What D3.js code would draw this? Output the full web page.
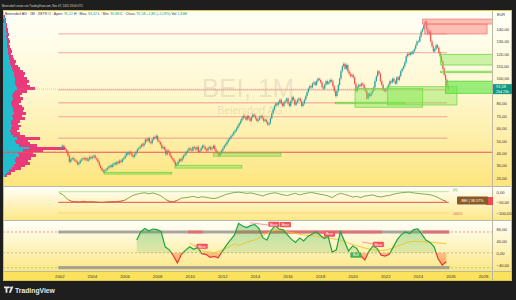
<!DOCTYPE html>
<html><head><meta charset="utf-8">
<script src="https://cdn.jsdelivr.net/npm/d3@7"></script>
<style>html,body{margin:0;padding:0;background:#1e1e1e;}svg{display:block;font-family:"Liberation Sans",Arial,sans-serif;}</style>
</head><body><svg id="c" width="516" height="300"></svg>
<script>
// ---------- DATA ----------
// Monthly closes Jan 2002 .. Nov 2025 (EUR)
const monthlyClose = [
 44,45,46,44,43,41,38,33,35,36,35,34,
 33,31,32,34,35,36,35,36,34,35,37,36,
 37,38,36,35,33,30,28,26,25,26,27,28,
 29,30,29,31,32,31,33,32,34,33,35,36,
 38,40,39,41,40,38,37,39,41,43,44,45,
 47,46,48,51,50,52,49,48,51,53,52,54,
 50,49,47,44,45,43,39,42,41,38,36,35,
 33,30,31,33,35,34,36,38,39,41,42,44,
 43,42,45,44,43,45,41,42,44,46,45,43,
 42,44,45,43,44,46,43,41,40,38,40,42,
 44,46,47,49,51,52,54,55,57,58,60,62,
 64,66,68,70,69,67,70,68,66,69,71,70,
 68,66,67,69,70,68,66,67,65,63,64,68,
 72,75,78,80,79,81,83,80,78,81,82,84,
 80,78,82,85,83,79,81,83,84,82,78,80,
 83,86,89,92,94,93,96,97,95,98,100,99,
 97,93,92,95,98,96,97,99,98,94,90,86,
 90,95,100,106,110,112,108,111,106,104,102,103,
 101,96,90,93,95,94,96,95,92,90,84,88,
 86,88,90,93,98,102,106,104,98,95,91,90,
 91,93,95,98,97,100,98,96,101,99,102,106,
 108,110,113,118,120,119,121,120,122,124,127,130,
 130,134,138,140,143,146,140,136,138,130,126,122,
 124,127,125,121,118,114,108,103,99,94,91.58
];
const firstOpen = 43;
const lastClose = 91.58;

// Volume profile bins (price, from 150 down to 22 step 2)
const profUp = [1,2,2,3,3,3,3,4,3,4,4,4,4,5,5,5,6,6,7,7,8,9,10,11,11,12,12,12,13,14,12,10,9,10,9,8,9,10,10,11,9,10,8,8,9,8,7,8,10,14,12,13,16,26,20,15,16,13,12,13,11,9,6,4,2];
const profDn = [1,1,1,1,1,2,2,2,2,2,3,2,3,3,4,3,4,5,6,5,7,8,10,11,10,12,14,12,14,18,12,9,8,10,9,8,10,11,10,12,10,12,9,7,9,8,7,9,12,23,13,14,18,36,20,15,17,15,13,14,11,9,6,4,2];

// Horizontal levels
const salmonLevels = [136, 121, 91, 80.6, 69.4, 52];
const redLevel = 40.7;

// Zones [startYear, endYear, top, bottom]
const greenZones = [
 [2004.75, 2008.9, 24.6, 23.2],
 [2009.1, 2013.2, 30.2, 28.0],
 [2011.45, 2015.6, 40.0, 37.6],
 [2018.95, 2023.2, 81.0, 80.0],
 [2020.15, 2024.3, 92.2, 77.0],
 [2022.15, 2026.4, 93.5, 78.8],
 [2025.4, 2028.6, 119.6, 111.0],
 [2025.4, 2028.6, 106.0, 104.8]
];
const brightZones = [[2025.7, 2028.6, 98.0, 88.2]];
const redZones = [
 [2024.3, 2028.6, 148.0, 144.0],
 [2024.43, 2028.25, 144.0, 136.0]
];

// Oscillator 1 (quarterly from 2002 Q1)
const osc1 = [
 -5,-15,-35,-45, -47,-48,-45,-48, -47,-49,-50,-50, -48,-47,-46,-45,
 -40,-30,-18,-12, -8,-5,-10,-6, -12,-20,-35,-45, -48,-40,-30,-28,
 -25,-22,-28,-24, -26,-30,-32,-28, -20,-12,-8,-4, -2,-5,-8,-6,
 -10,-15,-20,-12, -8,-5,-10,-15, -18,-12,-8,-15, -10,-6,-4,-8,
 -12,-15,-20,-28, -15,-8,-12,-18, -25,-22,-28,-20, -18,-15,-22,-25,
 -20,-18,-12,-8, -5,-3,-2,-6, -8,-10,-12,-14, -20,-28,-38,-46
];
// Oscillator 2 (quarterly from 2006 Q4)
const osc2 = [43,
 70,82,74,80, 78,72,20,10, -10,-34,-5,9, 20,12,18,-3, -5,-15,-12,-17,
 5,25,43,60, 99,90,85,92, 95,82,50,43, 75,92,80,77, 60,45,35,50,
 40,55,62,71, 60,48,55,2, 10,71,40,6, 23,15,-10,-24, 5,23,15,-8,
 -11,-5,20,45, 62,70,65,78, 80,62,43,35, 20,-20,-41,-30
];
// Signal line (quarterly from 2010 Q1)
const osc2Signal = [33,25,15,8, 3,3,0,5, 8,15,22,30, 25,30,35,40, 43,50,58,66,
 72,76,77,75, 70,68,65,62, 60,58,57,56, 54,52,50,48, 45,42,38,32,
 28,24,20,16, 13,10,9,8, 9,12,16,22, 28,33,37,38, 38,37,36,35, 34,33,32,31];
const redBandSegs = [[2009.9, 2010.8], [2012.8, 2021.8], [2024.3, 2025.9]];
const bearLabels = [[2010.77, 22], [2015.17, 96], [2015.88, 95], [2018.58, 63], [2021.58, 28]];
const bullLabels = [[2020.2, -8]];
const divLines = [[2013.7,101,2015.6,88],[2017.6,72,2018.8,58],[2020.6,36,2021.8,25],[2010.3,25,2011.0,12]];

const priceTicks = [20,30,40,50,60,70,80,100,110,120,130,140];
const osc1Ticks = [0,-50,-100];
const osc2Ticks = [80,40,0,-40];
const yearTicks = [2002,2004,2006,2008,2010,2012,2014,2016,2018,2020,2022,2024,2026,2028];

// ---------- LAYOUT ----------
const svg = d3.select('#c');
const L = 3, R = 512, AX = 492;
const mT = 10, mB = 186, p1T = 187, p1B = 220, p2T = 221, p2B = 271, tB = 281;
const fmt = v => d3.format(".2f")(v).replace('.', ',').replace('-', '−');
const yd = y => { const Y = Math.floor(y); return new Date(Y, 0, 1 + (y - Y) * 365); };

const x = d3.scaleTime().domain([new Date(2002,0,1), new Date(2028,0,1)]).range([59.3, 483]);
const y = d3.scaleLinear().domain([20, 140]).range([178, 29]);
const y1 = d3.scaleLinear().domain([0, -100]).range([191.7, 213]);
const y2 = d3.scaleLinear().domain([80, -40]).range([229, 264.7]);

const defs = svg.append('defs');
function grad(id, stops){
  const g = defs.append('linearGradient').attr('id', id).attr('x1',0).attr('y1',0).attr('x2',0).attr('y2',1);
  stops.forEach(s => g.append('stop').attr('offset', s[0]).attr('stop-color', s[1]).attr('stop-opacity', s[2] ?? 1));
}
grad('gMain', [[0,'#fffff8'],[0.45,'#fff8d2'],[1,'#fde57e']]);
grad('gP', [[0,'#fffffa'],[1,'#fde886']]);
grad('gGreen', [[0,'#3cb043',0.42],[1,'#3cb043',0.03]]);
grad('gRed', [[0,'#ff6a2a',0.04],[1,'#ff5a2a',0.45]]);
function clip(id, x0, y0, w, h){ defs.append('clipPath').attr('id', id).append('rect').attr('x',x0).attr('y',y0).attr('width',w).attr('height',h); }
clip('cMain', L, mT, AX - L, mB - mT);
clip('cP1', L, p1T, AX - L, p1B - p1T);
clip('cP2', L, p2T, AX - L, p2B - p2T);
clip('cP2up', L, p2T, AX - L, y2(0) - p2T);
clip('cP2dn', L, y2(0), AX - L, p2B - y2(0));
clip('cP1lo', L, y1(-40), AX - L, p1B - y1(-40));

// backgrounds
svg.append('rect').attr('width',516).attr('height',300).attr('fill','#1e1e1e');
svg.append('rect').attr('x',L).attr('y',mT).attr('width',R-L).attr('height',tB-mT).attr('fill','#f8e15a');
svg.append('rect').attr('x',L).attr('y',mT).attr('width',R-L).attr('height',mB-mT).attr('fill','url(#gMain)');
svg.append('rect').attr('x',L).attr('y',p1T).attr('width',R-L).attr('height',p1B-p1T).attr('fill','url(#gP)');
svg.append('rect').attr('x',L).attr('y',p2T).attr('width',R-L).attr('height',p2B-p2T).attr('fill','url(#gP)');
svg.append('rect').attr('x',L).attr('y',p2B).attr('width',R-L).attr('height',tB-p2B).attr('fill','#fae25c');
[mB+0.5, p1B+0.5, p2B+0.5].forEach(v => svg.append('line').attr('x1',L).attr('x2',R).attr('y1',v).attr('y2',v).attr('stroke','#bdb8a0').attr('stroke-width',1));
svg.append('line').attr('x1',AX+0.5).attr('x2',AX+0.5).attr('y1',mT).attr('y2',tB).attr('stroke','#bdb8a0');
svg.append('rect').attr('x',L+0.5).attr('y',mT+0.5).attr('width',R-L-1).attr('height',tB-mT-1).attr('fill','none').attr('stroke','#d9c54a');

// ---------- MAIN PANE ----------
const gm = svg.append('g').attr('clip-path','url(#cMain)');
// watermark
gm.append('text').attr('x',248).attr('y',97).attr('text-anchor','middle').attr('font-size',26).attr('fill','#b8ae98').attr('fill-opacity',0.28).text('BEI, 1M');
gm.append('text').attr('x',250).attr('y',114).attr('text-anchor','middle').attr('font-size',10.5).attr('fill','#b8ae98').attr('fill-opacity',0.32).text('Beiersdorf AG');

// volume profile
const profPrices = d3.range(150, 21, -2);
const px = d3.scaleLinear().domain([0, 62]).range([L, L + 62]);
const bh = Math.abs(y(0) - y(2));
const gp = gm.append('g').attr('shape-rendering', 'crispEdges');
profPrices.forEach((p, i) => {
  const up = profUp[i], dn = profDn[i];
  gp.append('rect').attr('x', px(0)).attr('y', y(p) - bh/2).attr('width', px(up) - px(0)).attr('height', bh + 0.4).attr('fill', '#22bccd');
  gp.append('rect').attr('x', px(up)).attr('y', y(p) - bh/2).attr('width', px(up + dn) - px(up)).attr('height', bh + 0.4).attr('fill', '#ea3a7a');
});

// horizontal levels
salmonLevels.forEach(p => gm.append('line').attr('x1', x(new Date(2002,0,1)) - 1).attr('x2', x(yd(2025.8))).attr('y1', y(p)).attr('y2', y(p)).attr('stroke','#f6a89a').attr('stroke-width',1.3).attr('opacity',0.8));
gm.append('line').attr('x1', L).attr('x2', AX).attr('y1', y(redLevel)).attr('y2', y(redLevel)).attr('stroke','#f0515c').attr('stroke-width',1.1);
// current price line
gm.append('line').attr('x1', L).attr('x2', AX).attr('y1', y(lastClose)).attr('y2', y(lastClose)).attr('stroke','#63c08a').attr('stroke-width',0.8).attr('stroke-dasharray','1,1').attr('opacity',0.6);

// candles
const cw = 1.25;
monthlyClose.forEach((c, i) => {
  const o = i === 0 ? firstOpen : monthlyClose[i-1];
  const d = new Date(2002, i, 15);
  const up = c >= o;
  const col = up ? '#26a69a' : '#ef5350';
  const top = y(Math.max(o, c)), bot = y(Math.min(o, c));
  gm.append('line').attr('x1', x(d)).attr('x2', x(d)).attr('y1', top - 1.5).attr('y2', bot + 1.5).attr('stroke', col).attr('stroke-width', 0.5).attr('opacity', 0.8);
  gm.append('rect').attr('x', x(d) - cw/2).attr('y', top).attr('width', cw).attr('height', Math.max(0.8, bot - top)).attr('fill', col);
});

// zones
function zone(z, fill, stroke, fo){
  gm.append('rect').attr('x', x(yd(z[0]))).attr('y', y(z[2])).attr('width', x(yd(z[1])) - x(yd(z[0]))).attr('height', Math.max(1.5, y(z[3]) - y(z[2])))
    .attr('fill', fill).attr('fill-opacity', fo).attr('stroke', stroke).attr('stroke-width', 0.8);
}
greenZones.forEach(z => zone(z, '#7ee84e', '#6fd64a', 0.4));
brightZones.forEach(z => zone(z, '#66e84a', '#55d43a', 0.65));
redZones.forEach(z => zone(z, '#ff7f78', '#f47b7b', 0.5));

// price axis
const ga = svg.append('g').attr('transform', `translate(${AX},0)`)
  .call(d3.axisRight(y).tickValues(priceTicks).tickSize(0).tickPadding(4.5).tickFormat(fmt));
ga.select('.domain').remove();
ga.selectAll('text').attr('font-size', 4.1).attr('fill', '#333');
svg.append('text').attr('x', 497).attr('y', 15.5).attr('font-size', 3.8).attr('fill', '#333').text('EUR');
// last price label
svg.append('rect').attr('x', AX + 1).attr('y', y(lastClose) - 5).attr('width', R - AX - 1).attr('height', 10).attr('fill', '#0f9a82');
svg.append('text').attr('x', 496).attr('y', y(lastClose) - 0.8).attr('font-size', 4).attr('fill', '#fff').text(fmt(lastClose));
svg.append('text').attr('x', 496).attr('y', y(lastClose) + 3.6).attr('font-size', 3.6).attr('fill', '#fff').text('20d 23h');

// ---------- PANE 1 ----------
const g1 = svg.append('g').attr('clip-path', 'url(#cP1)');
const x1s = x(new Date(2002,0,1)) - 1, x1e = x(yd(2025.9));
g1.append('line').attr('x1', x1s).attr('x2', x1e).attr('y1', y1(0)).attr('y2', y1(0)).attr('stroke', '#a6dd8e').attr('stroke-width', 0.8);
g1.append('line').attr('x1', x1s).attr('x2', x1e).attr('y1', y1(-50)).attr('y2', y1(-50)).attr('stroke', '#ef5350').attr('stroke-width', 1);
g1.append('line').attr('x1', x1s).attr('x2', x1e).attr('y1', y1(-100)).attr('y2', y1(-100)).attr('stroke', '#f3d56a').attr('stroke-width', 1);
const l1 = d3.line().x((d, i) => x(new Date(2002, i*3, 1))).y(d => y1(d));
g1.append('path').datum(osc1).attr('d', l1).attr('fill', 'none').attr('stroke', '#7c9f3d').attr('stroke-width', 0.9);
g1.append('path').datum(osc1).attr('d', l1).attr('fill', 'none').attr('stroke', '#ef5350').attr('stroke-width', 0.9).attr('clip-path', 'url(#cP1lo)');
svg.append('text').attr('x', 453).attr('y', 191).attr('font-size', 3.6).attr('fill', '#4caf50').text('(0)');
svg.append('text').attr('x', 452).attr('y', 214.5).attr('font-size', 3.6).attr('fill', '#ef5350').text('-100%');
svg.append('rect').attr('x', 486).attr('y', 197).attr('width', 7).attr('height', 8).attr('fill', '#ef4b55');
svg.append('rect').attr('x', 457).attr('y', 196.5).attr('width', 31).attr('height', 8).attr('fill', '#8a5a24').attr('rx', 0.8);
svg.append('text').attr('x', 472.5).attr('y', 202).attr('text-anchor', 'middle').attr('font-size', 3.8).attr('fill', '#fff').text('BEI | 38.57%');
const a1 = svg.append('g').attr('transform', `translate(${AX},0)`).call(d3.axisRight(y1).tickValues(osc1Ticks).tickSize(0).tickPadding(4.5).tickFormat(fmt));
a1.select('.domain').remove();
a1.selectAll('text').attr('font-size', 4.1).attr('fill', '#333');

// ---------- PANE 2 ----------
const g2 = svg.append('g').attr('clip-path', 'url(#cP2)');
g2.append('line').attr('x1', L).attr('x2', AX).attr('y1', y2(70)).attr('y2', y2(70)).attr('stroke', '#f07070').attr('stroke-width', 0.7).attr('stroke-dasharray', '2,2');
g2.append('line').attr('x1', L).attr('x2', AX).attr('y1', y2(0)).attr('y2', y2(0)).attr('stroke', '#b5a67a').attr('stroke-width', 0.7).attr('stroke-dasharray', '2,2');
g2.append('line').attr('x1', L).attr('x2', AX).attr('y1', y2(-50)).attr('y2', y2(-50)).attr('stroke', '#7cc85a').attr('stroke-width', 0.7).attr('stroke-dasharray', '2,2');
const bs = x(new Date(2002,0,1)) - 1, be = x(yd(2025.95));
g2.append('line').attr('x1', bs).attr('x2', be).attr('y1', y2(70)).attr('y2', y2(70)).attr('stroke', '#8f8f8f').attr('stroke-width', 3.2).attr('opacity', 0.75);
g2.append('line').attr('x1', bs).attr('x2', be).attr('y1', y2(-50)).attr('y2', y2(-50)).attr('stroke', '#8f8f8f').attr('stroke-width', 3.2).attr('opacity', 0.75);
redBandSegs.forEach(s => g2.append('line').attr('x1', x(yd(s[0]))).attr('x2', x(yd(s[1]))).attr('y1', y2(70)).attr('y2', y2(70)).attr('stroke', '#f0606c').attr('stroke-width', 3).attr('opacity', 0.75));
const q2 = i => new Date(2006, 9 + i*3, 1);
const area2 = d3.area().x((d, i) => x(q2(i))).y0(y2(0)).y1(d => y2(d));
g2.append('path').datum(osc2).attr('d', area2).attr('fill', 'url(#gGreen)').attr('clip-path', 'url(#cP2up)');
g2.append('path').datum(osc2).attr('d', area2).attr('fill', 'url(#gRed)').attr('clip-path', 'url(#cP2dn)');
const ls = d3.line().x((d, i) => x(new Date(2010, i*3, 1))).y(d => y2(d));
g2.append('path').datum(osc2Signal).attr('d', ls).attr('fill', 'none').attr('stroke', '#f2c322').attr('stroke-width', 0.9);
const l2 = d3.line().x((d, i) => x(q2(i))).y(d => y2(d));
g2.append('path').datum(osc2).attr('d', l2).attr('fill', 'none').attr('stroke', '#22a33a').attr('stroke-width', 1.2).attr('clip-path', 'url(#cP2up)');
g2.append('path').datum(osc2).attr('d', l2).attr('fill', 'none').attr('stroke', '#e53935').attr('stroke-width', 1.2).attr('clip-path', 'url(#cP2dn)');
divLines.forEach(d => g2.append('line').attr('x1', x(yd(d[0]))).attr('y1', y2(d[1])).attr('x2', x(yd(d[2]))).attr('y2', y2(d[3])).attr('stroke', '#f05a64').attr('stroke-width', 0.6));
function tag(t, v, txt, col){
  const cx = x(yd(t)), cy = y2(v);
  g2.append('rect').attr('x', cx - 5.5).attr('y', cy - 2.6).attr('width', 11).attr('height', 5.2).attr('fill', col).attr('rx', 0.6);
  g2.append('text').attr('x', cx).attr('y', cy + 1.3).attr('text-anchor', 'middle').attr('font-size', 3.5).attr('fill', '#fff').text(txt);
}
bearLabels.forEach(b => tag(b[0], b[1], 'Bear', '#f2545b'));
bullLabels.forEach(b => tag(b[0], b[1], 'Bull', '#4caf50'));
const a2 = svg.append('g').attr('transform', `translate(${AX},0)`).call(d3.axisRight(y2).tickValues(osc2Ticks).tickSize(0).tickPadding(4.5).tickFormat(fmt));
a2.select('.domain').remove();
a2.selectAll('text').attr('font-size', 4.1).attr('fill', '#333');

// ---------- TIME AXIS ----------
const at = svg.append('g').attr('transform', `translate(0,${p2B})`)
  .call(d3.axisBottom(x).tickValues(yearTicks.map(v => new Date(v,0,1))).tickSize(0).tickPadding(4).tickFormat(d3.timeFormat('%Y')));
at.select('.domain').remove();
at.selectAll('text').attr('font-size', 4.3).attr('fill', '#333');

// ---------- HEADER / FOOTER ----------
svg.append('text').attr('x', 2).attr('y', 6.5).attr('font-size', 2.8).attr('fill', '#d6d6d6').text('Beiersdorf creato con TradingView.com, Nov 07, 2025 18:00 UTC');
const lg = svg.append('text').attr('x', 5).attr('y', 15).attr('font-size', 3.5).attr('fill', '#333');
[['Beiersdorf AG · 1M · XETR  O · Apert. ', '#333'], ['91,22', '#089981'], ['  H · Max. ', '#333'], ['94,42', '#089981'],
 ['  L · Min. ', '#333'], ['90,88', '#089981'], ['  C · Chius. ', '#333'], ['91,58', '#089981'],
 ['  +1,86 (+2,03%)', '#089981'], ['  Vol ', '#333'], ['1,81M', '#089981']].forEach(s => lg.append('tspan').attr('fill', s[1]).text(s[0]));
svg.append('rect').attr('x', 3).attr('y', 19).attr('width', 1.2).attr('height', 4).attr('fill', '#e91e63');

const logo = svg.append('g').attr('fill', '#e8e8e8');
logo.append('path').attr('d', 'M4,286.5 h5 v1.8 h-1.6 v4.4 h-1.8 v-4.4 h-1.6 z');
logo.append('circle').attr('cx', 10).attr('cy', 287.4).attr('r', 0.9);
logo.append('path').attr('d', 'M11.4,286.5 h2 l-2.6,6.2 h-2 z');
svg.append('text').attr('x', 15).attr('y', 292.5).attr('font-size', 6.8).attr('font-weight', 'bold').attr('fill', '#e8e8e8').text('TradingView');
</script></body></html>
